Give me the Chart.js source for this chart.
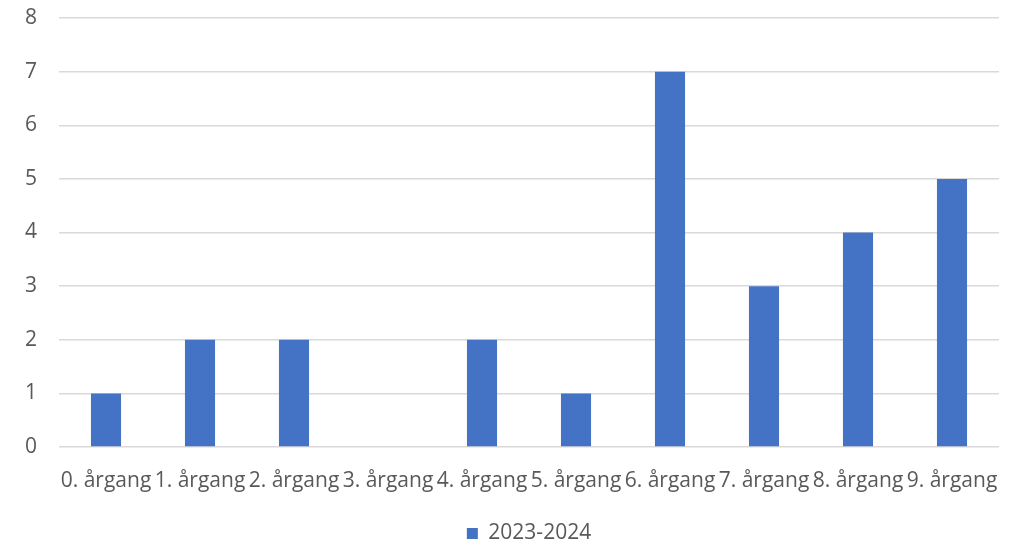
<!DOCTYPE html>
<html>
<head>
<meta charset="utf-8">
<script src="https://cdn.jsdelivr.net/npm/chart.js@4/dist/chart.umd.min.js"></script>
<style>
    html, body { margin: 0; padding: 0; background: #fff; }
    #wrap { width: 1022px; height: 540px; }
</style>
</head>
<body>
<div id="wrap"><canvas id="chart" width="1022" height="540"></canvas></div>
<script>
    const categories = ["0. årgang", "1. årgang", "2. årgang", "3. årgang", "4. årgang", "5. årgang", "6. årgang", "7. årgang", "8. årgang", "9. årgang"];
    const seriesName = "2023-2024";
    const values = [1, 2, 2, 0, 2, 1, 7, 3, 4, 5];
    const yTicks = [0, 1, 2, 3, 4, 5, 6, 7, 8];

    const textColor = "#595959";
    const font = { family: "'Open Sans', Lato, sans-serif", size: 21 };

    const context = document.getElementById("chart").getContext("2d");

    const chart = new Chart(context, {
        type: "bar",
        data: {
            labels: categories,
            datasets: [
                {
                    label: seriesName,
                    data: values,
                    backgroundColor: "#4472C4",
                    borderWidth: 0,
                    barPercentage: 0.32,
                    categoryPercentage: 1,
                },
            ],
        },
        options: {
            responsive: false,
            animation: false,
            layout: {
                padding: { left: 0, right: 23, top: 18, bottom: -14 },
            },
            scales: {
                x: {
                    grid: { display: false },
                    border: { display: false },
                    ticks: {
                        color: textColor,
                        font,
                        autoSkip: false,
                        maxRotation: 0,
                        padding: 13,
                    },
                    afterFit: (scale) => {
                        scale.height = 70;
                    },
                },
                y: {
                    min: 0,
                    max: 8,
                    afterBuildTicks: (scale) => {
                        scale.ticks = yTicks.map((v) => ({ value: v }));
                    },
                    grid: {
                        color: "#D9D9D9",
                        lineWidth: 1.5,
                        drawTicks: true,
                        tickLength: 22,
                        tickColor: "rgba(0,0,0,0)",
                    },
                    border: { display: false },
                    ticks: {
                        color: textColor,
                        font,
                        padding: 0,
                    },
                    afterFit: (scale) => {
                        scale.width = 59;
                    },
                },
            },
            plugins: {
                legend: {
                    position: "bottom",
                    // only as wide as the plot, so it centres under the bars
                    fullSize: false,
                    labels: {
                        color: textColor,
                        font,
                        boxWidth: 11,
                        boxHeight: 11,
                        padding: 6,
                    },
                },
                tooltip: { enabled: false },
            },
        },
    });
</script>
</body>
</html>
